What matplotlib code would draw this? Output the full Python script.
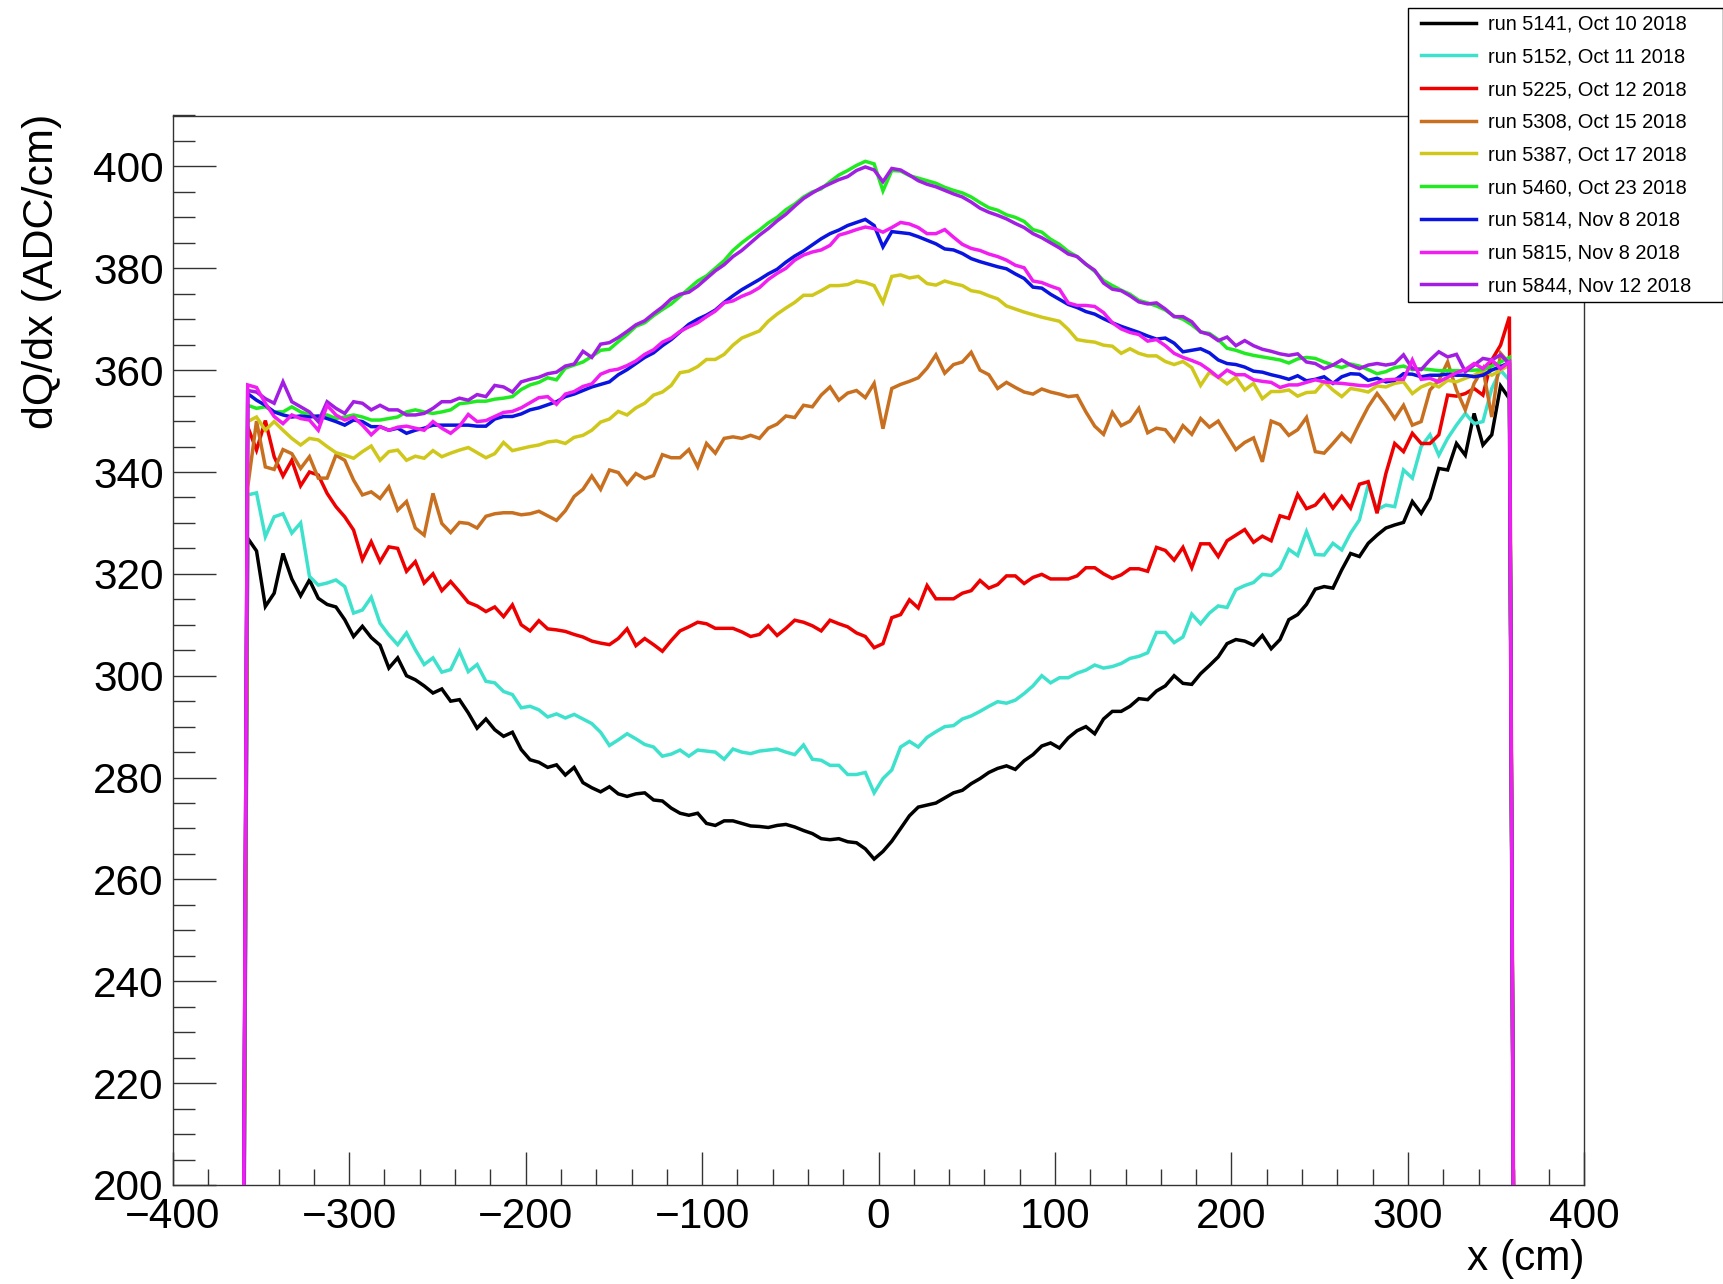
import numpy as np
import matplotlib
matplotlib.use("Agg")
import matplotlib.pyplot as plt
from matplotlib.ticker import MultipleLocator
from matplotlib.legend_handler import HandlerLine2D

plt.rcParams['font.family'] = ['Liberation Sans', 'DejaVu Sans']

# bin centres (5 cm bins from -360 to 360)
x_centers = np.arange(-357.5, 360, 5.0)

labels = ["run 5141, Oct 10 2018", "run 5152, Oct 11 2018", "run 5225, Oct 12 2018",
          "run 5308, Oct 15 2018", "run 5387, Oct 17 2018", "run 5460, Oct 23 2018",
          "run 5814, Nov 8 2018", "run 5815, Nov 8 2018", "run 5844, Nov 12 2018"]
colors = ["#000000", "#3ee2cc", "#ee0000", "#c87020", "#cfc81a", "#22ea22",
          "#0a14e0", "#f01ef0", "#a21ee2"]

run5141 = [327, 324.5, 313.6, 316.2, 324, 319, 315.7, 318.8, 315.2, 314, 313.5, 311,
           307.7, 309.7, 307.5, 306, 301.5, 303.5, 300, 299.2, 298, 296.6, 297.4, 295,
           295.3, 292.7, 289.7, 291.5, 289.4, 288.1, 288.9, 285.5, 283.5, 283, 282, 282.5,
           280.5, 282, 279, 278, 277.2, 278.2, 276.8, 276.3, 276.8, 277, 275.6, 275.4,
           274, 273, 272.6, 273, 271, 270.6, 271.5, 271.5, 271, 270.5, 270.4, 270.2,
           270.6, 270.8, 270.3, 269.6, 269, 268, 267.8, 268, 267.4, 267.2, 266, 264,
           265.5, 267.5, 270, 272.5, 274.2, 274.6, 275, 276, 277, 277.5, 278.8, 279.8,
           281, 281.8, 282.3, 281.6, 283.3, 284.5, 286.2, 286.8, 285.8, 287.8, 289.2, 290,
           288.6, 291.5, 293, 293, 294, 295.5, 295.3, 297, 298, 300, 298.5, 298.3,
           300.4, 302, 303.7, 306.3, 307.1, 306.8, 306, 307.9, 305.3, 307.1, 311, 312,
           314, 317, 317.5, 317.2, 320.8, 324, 323.4, 326, 327.6, 329, 329.6, 330.1,
           334.2, 331.9, 334.8, 340.7, 340.4, 345.6, 343.3, 351.5, 345.3, 347.3, 356.9, 354.4]

run5152 = [335.5, 335.9, 327.3, 331.2, 331.8, 328, 330, 319.5, 317.8, 318.2, 318.8, 317.5,
           312.3, 312.9, 315.4, 310.3, 308, 306.1, 308.4, 305.1, 302.2, 303.5, 300.7, 301.2,
           304.8, 300.8, 302.2, 298.9, 298.6, 296.9, 296.3, 293.7, 294, 293.3, 291.9, 292.5,
           291.7, 292.4, 291.5, 290.6, 288.9, 286.3, 287.4, 288.6, 287.6, 286.5, 286, 284.2,
           284.6, 285.4, 284.2, 285.4, 285.2, 285, 283.6, 285.6, 285, 284.7, 285.2, 285.4,
           285.6, 285, 284.5, 286.4, 283.6, 283.4, 282.4, 282.4, 280.6, 280.6, 281, 277,
           279.8, 281.5, 286, 287.1, 286, 287.9, 289, 290, 290.2, 291.5, 292.1, 293,
           294, 294.9, 294.6, 295.2, 296.5, 298, 300, 298.6, 299.6, 299.6, 300.5, 301.1,
           302.1, 301.5, 301.8, 302.4, 303.4, 303.8, 304.5, 308.5, 308.5, 306.5, 307.6, 312.1,
           310.2, 312.3, 313.7, 313.4, 316.9, 317.7, 318.3, 319.9, 319.7, 321.1, 324.8, 323.6,
           328.3, 323.8, 323.7, 326, 324.7, 328, 330.6, 337.5, 332.6, 333.5, 333.2, 340.4,
           338.8, 345, 347.3, 343.3, 346.6, 349.2, 351.5, 349.5, 349.9, 356.4, 360, 358]

run5225 = [348.9, 344.3, 350.1, 343, 339.2, 342.3, 337.3, 340, 339.4, 335.8, 333.2, 331.2,
           328.6, 322.8, 326.3, 322.4, 325.3, 325, 320.5, 322.4, 318.2, 320, 316.7, 318.5,
           316.5, 314.4, 313.7, 312.6, 313.5, 311.6, 313.9, 310, 308.8, 310.8, 309.2, 309,
           308.7, 308.1, 307.6, 306.8, 306.4, 306.1, 307.3, 309.2, 305.9, 307.3, 306.1, 304.8,
           306.9, 308.8, 309.6, 310.5, 310.2, 309.3, 309.3, 309.3, 308.6, 307.7, 308.1, 309.8,
           307.9, 309.3, 310.9, 310.5, 309.8, 308.8, 310.9, 310.2, 309.6, 308.4, 307.7, 305.5,
           306.3, 311.4, 312, 314.9, 313.3, 317.7, 315.1, 315.1, 315.1, 316.2, 316.7, 318.7,
           317.2, 317.9, 319.6, 319.6, 318.1, 319.3, 319.9, 319, 319, 319, 319.6, 321.2,
           321.2, 320, 319.1, 319.8, 321, 321, 320.5, 325.2, 324.6, 322.7, 325.2, 321.2,
           325.9, 325.9, 323.4, 326.5, 327.6, 328.7, 326.2, 327.4, 326.5, 331.4, 330.9, 335.6,
           332.8, 333.5, 335.5, 332.9, 335.2, 332.9, 337.6, 338.1, 331.9, 339.7, 345.6, 344,
           347.6, 345.6, 345.6, 347.3, 355.1, 354.9, 355.4, 356.4, 355.1, 362, 364.9, 370.5]

run5308 = [337, 350, 341, 340.5, 344.4, 343.6, 340.7, 343, 338.8, 338.8, 343.3, 342.3,
           338.4, 335.5, 336.1, 334.8, 337.1, 332.5, 334.2, 329, 327.6, 335.8, 329.9, 328.1,
           330.1, 329.9, 329, 331.3, 331.8, 332, 332, 331.6, 331.8, 332.3, 331.4, 330.5,
           332.4, 335.2, 336.6, 339.2, 336.6, 340.4, 339.9, 337.6, 339.7, 338.7, 339.3, 343.4,
           342.8, 342.8, 344.4, 341, 345.6, 343.7, 346.6, 346.9, 346.6, 347.2, 346.6, 348.6,
           349.4, 351, 350.7, 353.1, 352.8, 355.1, 356.7, 354.1, 355.5, 356, 354.6, 357.4,
           348.5, 356.4, 357.2, 357.8, 358.5, 360.4, 363, 359.4, 361.1, 361.6, 363.5, 360,
           359.1, 356.4, 357.6, 356.6, 355.7, 355.3, 356.3, 355.7, 355.3, 354.8, 355, 351.8,
           349, 347.4, 351.7, 349.1, 350, 352.5, 347.7, 348.6, 348.3, 346.1, 349.1, 347.4,
           350.5, 348.8, 350, 347.2, 344.4, 345.8, 346.7, 342, 350, 349.3, 347.2, 348.3,
           350.7, 344, 343.7, 345.6, 347.6, 346, 349.5, 352.8, 355.4, 353.1, 350.5, 353.1,
           349.2, 349.9, 356.1, 358, 361.6, 356.1, 352.2, 357.4, 360.3, 350.8, 363.3, 361.3]

run5387 = [349.9, 350.8, 348.2, 349.9, 348.2, 346.6, 345.3, 346.6, 346.3, 345, 343.8, 343.3,
           342.7, 344, 345.1, 342.3, 344, 344.3, 342.3, 343.1, 342.7, 344.2, 343, 343.7,
           344.3, 344.8, 343.8, 342.8, 343.6, 345.8, 344.2, 344.6, 345, 345.3, 345.9, 346.1,
           345.6, 346.8, 347.2, 348.2, 349.8, 350.4, 351.9, 351.2, 352.6, 353.5, 355.1, 355.7,
           357, 359.5, 359.8, 360.7, 362.1, 362.1, 363.1, 364.9, 366.3, 367, 367.7, 369.6,
           371, 372.2, 373.3, 374.7, 374.7, 375.6, 376.6, 376.6, 376.8, 377.5, 377.2, 376.6,
           373.3, 378.4, 378.7, 378.1, 378.4, 377, 376.7, 377.5, 377, 376.6, 375.6, 375.3,
           374.6, 374, 372.6, 372, 371.4, 370.9, 370.4, 370, 369.6, 368, 366, 365.7,
           365.5, 364.9, 364.7, 363.3, 364.2, 363.3, 362.8, 362.8, 361.7, 361.1, 361.7, 360.5,
           357, 359.6, 358.6, 357.3, 358.6, 356.1, 357.4, 354.4, 355.8, 355.8, 356.1, 354.9,
           355.6, 355.7, 357.7, 356.1, 354.8, 356.4, 356.1, 355.7, 356.9, 356.7, 357.4, 357.7,
           355.4, 356.7, 357.4, 356.7, 358, 357.7, 358.4, 359, 360, 359, 360, 361]

run5460 = [353.1, 352.5, 352.8, 351.8, 351.8, 352.8, 351.8, 351.2, 350.8, 351.2, 350.5, 350.8,
           351.2, 350.8, 350.2, 350.2, 350.5, 350.8, 351.8, 352.2, 351.8, 351.5, 351.8, 352.2,
           353.4, 353.6, 353.9, 353.9, 354.3, 354.5, 354.8, 356.2, 357.1, 357.6, 358.5, 358.1,
           360.4, 361, 361.6, 362.7, 363.9, 364.1, 365.6, 367, 368.6, 369.3, 370.7, 371.9,
           373, 374.5, 376, 377.5, 378.5, 380, 381.5, 383.5, 385, 386.3, 387.5, 388.9,
           390, 391.5, 392.6, 394, 395, 395.6, 397, 398.3, 399.2, 400.2, 401, 400.5,
           395.2, 399.2, 399.1, 398.2, 397.7, 397.2, 396.7, 395.9, 395.3, 394.8, 394, 392.9,
           391.9, 391.4, 390.5, 390, 389.2, 387.6, 387.1, 385.7, 384.7, 383.3, 382.3, 380.8,
           379.4, 377.6, 376.6, 375.7, 374.9, 373.7, 373.2, 372.6, 371.8, 370.6, 370, 368.9,
           367.5, 367.2, 366, 364.3, 363.9, 363.3, 362.9, 362.6, 362.3, 362, 361.4, 362.2,
           362.5, 362.3, 361.6, 361, 360.5, 361.2, 360.8, 360.1, 359.3, 359.7, 360.5, 360.8,
           360.1, 360.3, 360.1, 359.9, 359.9, 359.9, 359.9, 360, 360.1, 360.8, 361.6, 362.5]

run5814 = [355.4, 354.1, 353.1, 351.8, 351.2, 350.8, 351, 350.8, 351, 350.5, 349.9, 349.2,
           350.2, 349.9, 348.9, 348.9, 348.2, 348.6, 347.6, 348.2, 348.6, 349.2, 349.2, 349.2,
           349.2, 349.2, 349, 349, 350.4, 350.9, 350.9, 351.4, 352.2, 352.6, 353.2, 353.8,
           354.8, 355.3, 356, 356.7, 357.2, 357.7, 359.1, 360.1, 361.3, 362.5, 363.4, 364.8,
           366, 367.5, 369, 370, 370.8, 371.8, 373.3, 374.6, 375.8, 376.8, 377.8, 378.9,
           379.8, 381.2, 382.4, 383.4, 384.6, 385.8, 386.8, 387.5, 388.4, 389, 389.6, 388.4,
           384.2, 387.2, 387, 386.8, 386.2, 385.5, 384.8, 383.8, 383.6, 382.9, 381.9, 381.3,
           380.8, 380.3, 379.9, 378.9, 378, 376.3, 376.1, 374.9, 373.9, 372.9, 372.3, 371.5,
           371, 370.1, 369.3, 368.6, 368, 367.4, 366.7, 366.1, 366.3, 365.3, 363.6, 363.9,
           364.2, 363.4, 362, 361.3, 361.1, 360.6, 359.8, 359.6, 359.1, 358.7, 358.2, 358.9,
           357.9, 358.2, 358.7, 357.4, 358.7, 359.3, 359.2, 358, 358.4, 357.7, 358, 359.3,
           359.2, 358.7, 359, 359, 359.2, 359, 359, 358.7, 359, 360, 360.7, 361.5]

run5815 = [357.1, 356.6, 353.5, 350.9, 349.5, 351.2, 350.5, 350.2, 348.2, 353.1, 351.2, 350.2,
           350.8, 349.2, 347.3, 348.9, 348.2, 348.8, 349, 348.6, 348.2, 349.9, 348.6, 347.6,
           349, 351.3, 349.9, 350.1, 350.9, 351.7, 351.9, 352.6, 353.6, 354.6, 354.8, 353.3,
           355.3, 355.8, 356.8, 357.3, 359.2, 359.9, 360.2, 360.9, 361.8, 363.1, 364, 365.5,
           366.3, 367.6, 368.5, 369.3, 370.5, 371.6, 373.2, 373.6, 374.5, 375.2, 376.2, 377.8,
           379, 380, 381.6, 382.6, 383.2, 383.6, 384.5, 386.5, 387, 387.6, 388.1, 387.8,
           387.1, 388, 389, 388.7, 388, 386.8, 386.8, 387.6, 386.1, 384.7, 383.9, 383.5,
           382.8, 382.3, 381.6, 380.6, 380.1, 377.5, 377.2, 376.5, 375.9, 373.2, 372.7, 372.7,
           372.5, 371.3, 369.3, 368.1, 367.4, 367, 365.7, 366, 364.8, 363.3, 362.5, 361.9,
           361.2, 360, 358.6, 360, 359.1, 359.1, 358.1, 357.8, 357.6, 356.6, 357.1, 357.1,
           357.6, 358.1, 357.7, 357.5, 357.4, 357.2, 357, 356.9, 357.5, 358.1, 358.2, 358.2,
           362, 358.2, 358.4, 357.7, 358.6, 359.5, 360.1, 361.3, 360.3, 362, 360.3, 361.6]

run5844 = [356, 355.7, 354.4, 353.5, 357.7, 353.8, 352.8, 351.8, 349.9, 353.8, 352.5, 351.5,
           353.8, 353.5, 352.2, 353.1, 352.2, 352.2, 351.2, 351.2, 351.5, 352.5, 353.8, 353.8,
           354.5, 354.1, 355.2, 354.8, 357, 356.7, 355.7, 357.7, 358.2, 358.6, 359.3, 359.6,
           360.8, 361.2, 363.7, 362.5, 365.1, 365.4, 366.4, 367.6, 368.9, 369.7, 371.1, 372.4,
           374, 374.9, 375.3, 376.5, 378, 379.5, 380.7, 382.3, 383.5, 385, 386.5, 387.8,
           389.3, 390.6, 392.2, 393.7, 394.8, 395.8, 396.6, 397.4, 398, 399.2, 399.9, 399.3,
           397, 399.6, 399.3, 398.3, 397.2, 396.5, 396, 395.3, 394.6, 394, 393, 391.8,
           391, 390.4, 389.7, 388.8, 388, 386.8, 386, 385, 384, 382.8, 382.3, 380.8,
           379.6, 377.1, 375.9, 375.6, 374.6, 373.4, 373, 373.2, 372, 370.5, 370.5, 369.5,
           367.5, 367, 365.8, 366.5, 364.8, 365.8, 364.8, 364.1, 363.7, 363.2, 362.9, 363.2,
           361.6, 361.3, 360.3, 361, 362, 361, 360.3, 361, 361.3, 361, 361.3, 363,
           360.3, 360.1, 362, 363.6, 362.6, 363.1, 359.7, 361, 362.3, 362, 363, 361.3]

series = [run5141, run5152, run5225, run5308, run5387, run5460, run5814, run5815, run5844]

# empty neighbouring bins outside the detector (content 0)
x_full = np.concatenate([[x_centers[0] - 5.0], x_centers, [x_centers[-1] + 5.0]])

W, H = 1724, 1284
fig = plt.figure(figsize=(W / 100, H / 100), dpi=100)
ax = fig.add_axes([172.7 / W, 1 - 1185 / H, (1584.4 - 172.7) / W, (1185 - 115.5) / H])

zorders = [2, 2.1, 2.2, 2.3, 2.4, 2.5, 2.6, 2.9, 2.8]
for vals, lab, col, zo in zip(series, labels, colors, zorders):
    y_full = np.concatenate([[0.0], np.asarray(vals, float), [0.0]])
    ax.plot(x_full, y_full, color=col, lw=2.5, label=lab, zorder=zo,
            solid_joinstyle='miter')

ax.set_xlim(-400, 400)
ax.set_ylim(200, 410)
ax.xaxis.set_major_locator(MultipleLocator(100))
ax.xaxis.set_minor_locator(MultipleLocator(20))
ax.yaxis.set_major_locator(MultipleLocator(20))
ax.yaxis.set_minor_locator(MultipleLocator(5))

ax.tick_params(axis='both', which='both', direction='in', top=False, right=False,
               width=1.0, color='#333333')
ax.tick_params(axis='y', which='major', length=31, pad=6.5, labelsize=30.5)
ax.tick_params(axis='y', which='minor', length=16)
ax.tick_params(axis='x', which='major', length=23.5, pad=9.0, labelsize=30.5)
ax.tick_params(axis='x', which='minor', length=11.8)
for sp in ax.spines.values():
    sp.set_linewidth(1.0)
    sp.set_color('#333333')

fig.text(42 / W, 1 - 114 / H, 'dQ/dx (ADC/cm)', rotation=90, ha='center', va='top',
         fontsize=31)
fig.text(1584.4 / W, 1 - 1270 / H, 'x (cm)', ha='right', va='baseline', fontsize=30.5)

handles, labs = ax.get_legend_handles_labels()
leg = fig.legend(handles, labs, loc='upper left',
                 bbox_to_anchor=(1408 / W, 1 - 302 / H, (W - 1408 - 1) / W, (302 - 8) / H),
                 mode='expand', borderaxespad=0, fontsize=14.4, frameon=True,
                 fancybox=False, shadow=False, framealpha=1, edgecolor='black',
                 borderpad=0.33, labelspacing=0.685, handlelength=3.07,
                 handletextpad=0.6,
                 handler_map={h: HandlerLine2D(xpad=0.3) for h in handles})
leg.get_frame().set_linewidth(1.0)
for h in leg.get_lines():
    h.set_linewidth(2.5)

fig.savefig('out.png', dpi=100)
